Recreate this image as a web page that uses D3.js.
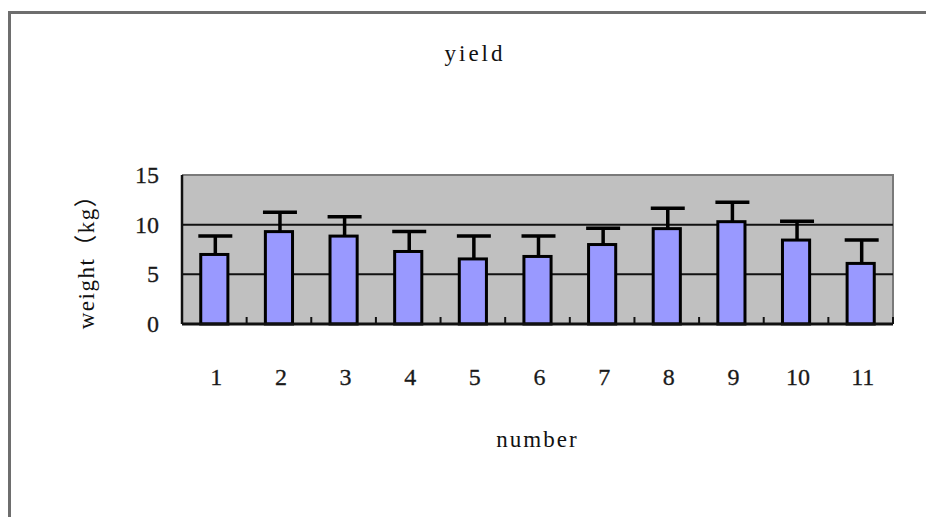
<!DOCTYPE html>
<html>
<head>
<meta charset="utf-8">
<script src="https://cdn.jsdelivr.net/npm/d3@7"></script>
<style>
  html, body { margin: 0; padding: 0; background: #fff; }
  svg { display: block; }
</style>
</head>
<body>
<svg id="chart" width="926" height="517"></svg>
<script>
const categories = ["1","2","3","4","5","6","7","8","9","10","11"];
const values = [7.0, 9.3, 8.85, 7.3, 6.55, 6.8, 8.0, 9.6, 10.3, 8.45, 6.1];
const errors = [1.85, 1.95, 1.95, 2.0, 2.3, 2.05, 1.65, 2.05, 1.95, 1.9, 2.35];
const yTicks = [0, 5, 10, 15];
const gridValues = [5, 10];
const title = "yield";
const xTitle = "number";
const yTitle = "weight（kg）";

const svg = d3.select("#chart");
const plot = {left: 182, right: 893, top: 175, bottom: 324};
const textFont = "'Liberation Serif', 'Noto Sans CJK SC', serif";

// outer chart border
svg.append("rect")
  .attr("x", 9.5).attr("y", 12.5)
  .attr("width", 1000).attr("height", 600)
  .attr("fill", "none").attr("stroke", "#6e6e6e").attr("stroke-width", 3);

const x = d3.scaleBand().domain(categories).range([plot.left, plot.right]).padding(0);
const y = d3.scaleLinear().domain([0, 15]).range([plot.bottom, plot.top]);

// plot background
svg.append("rect")
  .attr("x", plot.left).attr("y", plot.top)
  .attr("width", plot.right - plot.left).attr("height", plot.bottom - plot.top)
  .attr("fill", "#c0c0c0");

// top and right border (grey)
svg.append("path")
  .attr("d", `M${plot.left},${plot.top}H${plot.right}V${plot.bottom}`)
  .attr("fill", "none").attr("stroke", "#7a7a7a").attr("stroke-width", 2);

// gridlines
svg.append("g").selectAll("line").data(gridValues).join("line")
  .attr("x1", plot.left).attr("x2", plot.right)
  .attr("y1", d => y(d)).attr("y2", d => y(d))
  .attr("stroke", "#111").attr("stroke-width", 2);

// bars
const bw = x.bandwidth() * 0.42;
svg.append("g").selectAll("rect").data(categories).join("rect")
  .attr("x", (d) => x(d) + x.bandwidth() / 2 - bw / 2)
  .attr("y", (d, i) => y(values[i]))
  .attr("width", bw)
  .attr("height", (d, i) => y(0) - y(values[i]))
  .attr("fill", "#9999ff")
  .attr("stroke", "#000").attr("stroke-width", 3);

// error bars (upper only)
const eg = svg.append("g").attr("stroke", "#000").attr("stroke-width", 3.5);
categories.forEach((d, i) => {
  const cx = x(d) + x.bandwidth() / 2 + 1;
  eg.append("line")
    .attr("x1", cx).attr("x2", cx)
    .attr("y1", y(values[i])).attr("y2", y(values[i] + errors[i]));
  eg.append("line")
    .attr("x1", cx - 17).attr("x2", cx + 17)
    .attr("y1", y(values[i] + errors[i])).attr("y2", y(values[i] + errors[i]));
});

// y axis line
svg.append("line")
  .attr("x1", plot.left).attr("x2", plot.left)
  .attr("y1", plot.top).attr("y2", plot.bottom)
  .attr("stroke", "#111").attr("stroke-width", 2.5);

// x axis with inward ticks between categories
const xAxisG = svg.append("g");
xAxisG.append("line")
  .attr("x1", plot.left).attr("x2", plot.right)
  .attr("y1", plot.bottom).attr("y2", plot.bottom)
  .attr("stroke", "#111").attr("stroke-width", 3);
xAxisG.selectAll("line.tick").data(categories).join("line")
  .attr("class", "tick")
  .attr("x1", d => x(d) + x.bandwidth()).attr("x2", d => x(d) + x.bandwidth())
  .attr("y1", plot.bottom).attr("y2", plot.bottom - 7)
  .attr("stroke", "#111").attr("stroke-width", 2);

// x tick labels
svg.append("g").selectAll("text").data(categories).join("text")
  .attr("x", d => x(d) + x.bandwidth() / 2 + 2)
  .attr("y", 385)
  .attr("text-anchor", "middle")
  .attr("font-family", textFont)
  .attr("font-size", 24)
  .attr("fill", "#1a1a1a")
  .attr("stroke", "#1a1a1a").attr("stroke-width", 0.3)
  .text(d => d);

// y tick labels
svg.append("g").selectAll("text").data(yTicks).join("text")
  .attr("x", 159)
  .attr("y", d => y(d) + 8)
  .attr("text-anchor", "end")
  .attr("font-family", textFont)
  .attr("font-size", 24)
  .attr("fill", "#1a1a1a")
  .attr("stroke", "#1a1a1a").attr("stroke-width", 0.3)
  .text(d => d);

// titles
svg.append("text")
  .attr("x", 475).attr("y", 61)
  .attr("text-anchor", "middle")
  .attr("font-family", textFont)
  .attr("font-size", 23)
  .attr("letter-spacing", 3)
  .attr("fill", "#111")
  .text(title);

svg.append("text")
  .attr("x", (plot.left + plot.right) / 2).attr("y", 447)
  .attr("text-anchor", "middle")
  .attr("font-family", textFont)
  .attr("font-size", 23)
  .attr("letter-spacing", 2)
  .attr("fill", "#111")
  .text(xTitle);

svg.append("text")
  .attr("transform", `translate(94,256) rotate(-90)`)
  .attr("text-anchor", "middle")
  .attr("font-family", textFont)
  .attr("font-size", 23)
  .attr("letter-spacing", 1.5)
  .attr("fill", "#111")
  .text(yTitle);
</script>
</body>
</html>
